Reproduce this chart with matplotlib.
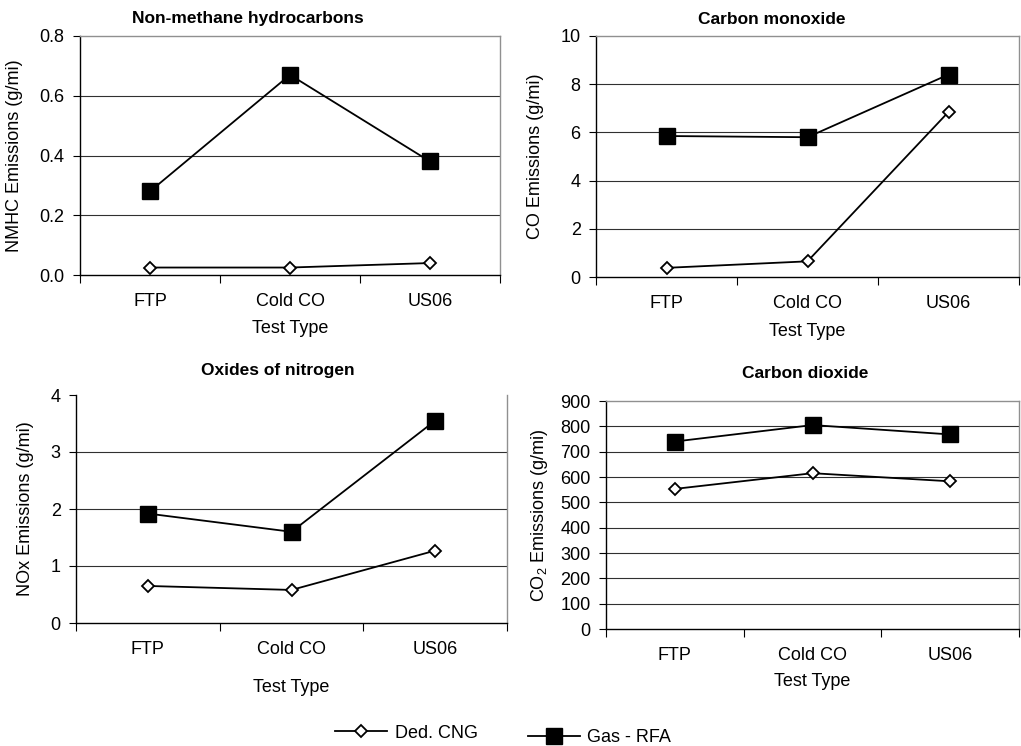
import numpy as np
import matplotlib.pyplot as plt
from matplotlib.lines import Line2D

plt.rcParams['font.family'] = ['Liberation Sans', 'DejaVu Sans']
plt.rcParams['mathtext.fontset'] = 'custom'
plt.rcParams['mathtext.rm'] = 'Liberation Sans'

# data
tests = ['FTP', 'Cold CO', 'US06']

nmhc_cng = [0.025, 0.025, 0.04]
nmhc_gas = [0.28, 0.67, 0.38]

co_cng = [0.38, 0.65, 6.85]
co_gas = [5.85, 5.8, 8.4]

nox_cng = [0.65, 0.58, 1.27]
nox_gas = [1.92, 1.6, 3.55]

co2_cng = [553, 615, 583]
co2_gas = [740, 805, 768]

W, H = 1021, 746
FS = 13
fig = plt.figure(figsize=(W / 100, H / 100), dpi=100)


def px_axes(left, top, right, bottom):
    return fig.add_axes([left / W, (H - bottom) / H, (right - left) / W, (bottom - top) / H])


def panel(ax, cng, gas, ymax, step, fmt, ylabel, title, tx, ty, lx, xlab_y, top_spine=True):
    x = np.arange(len(tests)) + 0.5
    ax.plot(x, gas, color='black', lw=1.3, marker='s', ms=11, mfc='black', mec='black', zorder=3)
    ax.plot(x, cng, color='black', lw=1.3, marker='D', ms=6.5, mfc='white', mec='black', mew=1.3, zorder=3)
    ax.set_xlim(0, 3)
    ax.set_ylim(0, ymax)
    yt = np.arange(0, ymax + step / 2, step)
    ax.set_yticks(yt)
    ax.set_yticklabels([fmt.format(v) for v in yt], fontsize=FS)
    for v in yt[1:-1]:
        ax.axhline(v, color='#303030', lw=0.8, zorder=1)
    ax.set_xticks([0, 1, 2, 3])
    ax.set_xticklabels([])
    ax.set_xticks(x, minor=True)
    ax.set_xticklabels(tests, minor=True, fontsize=FS)
    ax.tick_params(axis='x', which='major', length=6, width=0.8, direction='out')
    ax.tick_params(axis='x', which='minor', length=0, pad=13)
    ax.tick_params(axis='y', length=5, width=0.8, direction='out', pad=6)
    ax.spines['left'].set_color('black')
    ax.spines['bottom'].set_color('black')
    ax.spines['right'].set_color('#909090')
    ax.spines['top'].set_color('#909090')
    ax.spines['top'].set_visible(top_spine)
    for s in ax.spines.values():
        s.set_linewidth(1.0)
    fig.text(tx / W, 1 - ty / H, title, fontsize=12.5, fontweight='bold', ha='center', va='center')
    bb = ax.get_position()
    fig.text(lx / W, bb.y0 + bb.height / 2, ylabel, fontsize=FS, rotation=90, ha='center', va='center')
    fig.text((bb.x0 + bb.width / 2), 1 - xlab_y / H, 'Test Type', fontsize=FS, ha='center', va='center')


ax1 = px_axes(80, 36, 500, 275)
panel(ax1, nmhc_cng, nmhc_gas, 0.8, 0.2, '{:.1f}', 'NMHC Emissions (g/mi)',
      'Non-methane hydrocarbons', 248, 18, 15, 329)

ax2 = px_axes(596, 36, 1019, 277)
panel(ax2, co_cng, co_gas, 10, 2, '{:.0f}', 'CO Emissions (g/mi)',
      'Carbon monoxide', 772, 19, 535, 331)

ax3 = px_axes(76, 395, 507, 623)
panel(ax3, nox_cng, nox_gas, 4, 1, '{:.0f}', 'NOx Emissions (g/mi)',
      'Oxides of nitrogen', 278, 370, 25, 687, top_spine=False)

ax4 = px_axes(606, 401, 1019, 629)
panel(ax4, co2_cng, co2_gas, 900, 100, '{:.0f}', 'CO$_{2}$ Emissions (g/mi)',
      'Carbon dioxide', 805, 373, 540, 681)

h_cng = Line2D([], [], color='black', lw=1.3, marker='D', ms=6.5, mfc='white', mec='black', mew=1.3)
h_gas = Line2D([], [], color='black', lw=1.3, marker='s', ms=11, mfc='black', mec='black')
leg1 = fig.legend([h_cng], ['Ded. CNG'], loc='center left', bbox_to_anchor=(335 / W, 1 - 733 / H),
                  frameon=False, fontsize=FS, handlelength=2.9, handletextpad=0.45,
                  borderpad=0, borderaxespad=0)
fig.legend([h_gas], ['Gas - RFA'], loc='center left', bbox_to_anchor=(528 / W, 1 - 738 / H),
           frameon=False, fontsize=FS, handlelength=2.9, handletextpad=0.35,
           borderpad=0, borderaxespad=0)

fig.savefig('out.png', dpi=100)
